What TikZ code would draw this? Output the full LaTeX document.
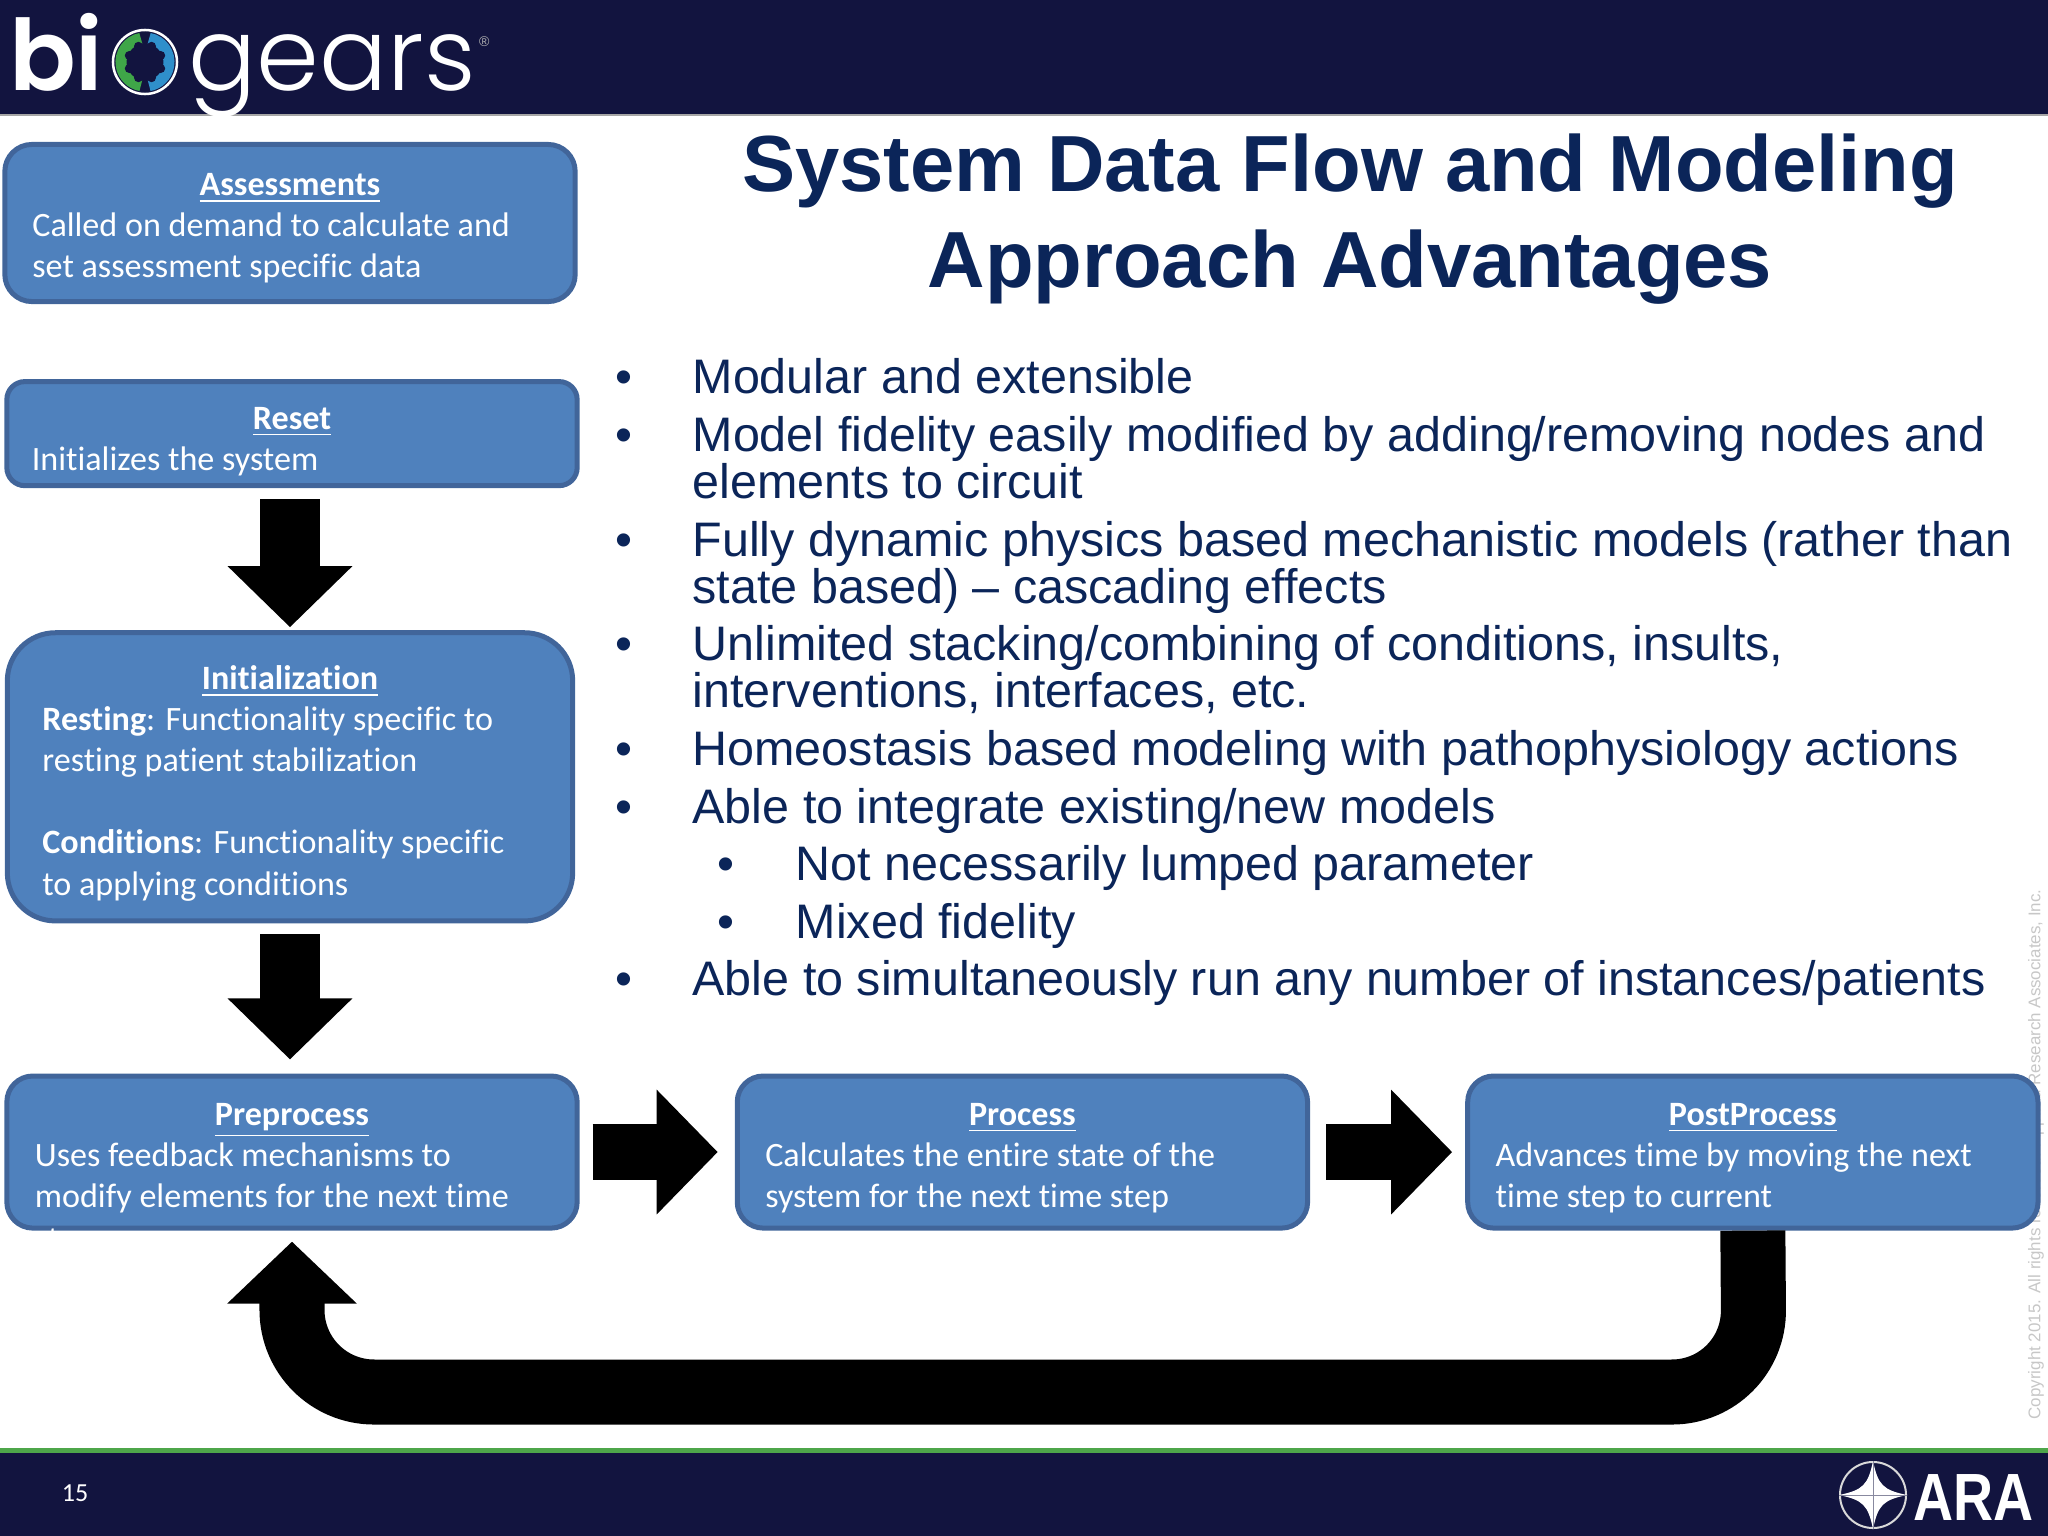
\documentclass[tikz,border=0pt]{standalone}
\usepackage{fontspec}
\setmainfont{Liberation Sans}
\newfontfamily\boxfont{Carlito}[Ligatures=NoCommon]
\newfontfamily\logofont{Poppins Light}
\usetikzlibrary{positioning, arrows.meta}

\definecolor{barnavy}{HTML}{12143F}
\definecolor{titlenavy}{HTML}{0B2559}
\definecolor{boxfill}{HTML}{4F81BD}
\definecolor{boxline}{HTML}{41659A}
\definecolor{bargreen}{HTML}{4EA64A}
\definecolor{gearblue}{HTML}{2F8FCB}
\definecolor{geargreen}{HTML}{3FA648}

\setlength{\lineskiplimit}{-10pt}
\setlength{\normallineskiplimit}{-10pt}
\newcommand{\boxhead}[2][0.33cm]{\makebox[\hsize]{\rule{0pt}{#1}\textbf{\underline{#2}}}}
\newcommand{\itembull}{\leavevmode\llap{\textbullet\hspace{0.6cm}}}
\newcommand{\subbull}{\leavevmode\hspace*{1.03cm}\llap{\textbullet\hspace{0.61cm}}}

\begin{document}
\begin{tikzpicture}[x=0.01cm, y=-0.01cm, node distance=0.07cm]
    % Define styles
    \tikzstyle{flowbox} = [draw=boxline, line width=0.05cm, fill=boxfill, rectangle, text=white, inner sep=0pt, align=flush left, font=\boxfont\fontsize{9.7}{11.67}\selectfont]
    \tikzstyle{rec_assess} = [flowbox, rounded corners=0.27cm, minimum width=5.7cm, minimum height=1.57cm, text width=5.15cm]
    \tikzstyle{rec_reset} = [flowbox, rounded corners=0.18cm, minimum width=5.7cm, minimum height=1.04cm, text width=5.2cm]
    \tikzstyle{rec_init} = [flowbox, rounded corners=0.48cm, minimum width=5.65cm, minimum height=2.88cm, text width=4.95cm]
    \tikzstyle{rec_flow} = [flowbox, rounded corners=0.26cm, minimum width=5.7cm, minimum height=1.52cm, text width=5.14cm]
    \tikzstyle{downarrow} = [-{Triangle[length=0.61cm, width=1.21cm]}, line width=0.6cm, black]
    \tikzstyle{rightarrow} = [-{Triangle[length=0.61cm, width=1.21cm]}, line width=0.56cm, black]
    \tikzstyle{feedback} = [-{Triangle[length=0.62cm, width=1.26cm]}, line width=0.65cm, black, rounded corners=0.82cm]
    \tikzstyle{bodyitem} = [text=titlenavy, inner sep=0pt, text width=13.4cm, align=flush left, font=\fontsize{13.78}{13.37}\selectfont]

    \useasboundingbox (0,0) rectangle (2048,1536);

    % BARS
    \fill[barnavy] (0,0) rectangle (2048,114);
    \fill[gray!70] (0,114) rectangle (2048,116);
    \fill[barnavy] (0,1452) rectangle (2048,1536);
    \fill[bargreen] (0,1448) rectangle (2048,1453);

    % LOGO
    \node (logo_bi) [anchor=base east, text=white, inner sep=0pt, font=\logofont\bfseries\fontsize{28}{28}\selectfont] at (104,90) {bi};
    \node (logo_ring) [circle, draw=white, line width=0.025cm, fill=barnavy, minimum size=0.64cm, inner sep=0pt] at (145,62) {};
    \draw[geargreen, line width=0.11cm] (145,62) ++(100:0.24cm) arc (100:260:0.24cm);
    \draw[gearblue, line width=0.11cm] (145,62) ++(80:0.24cm) arc (80:-80:0.24cm);
    \foreach \a in {22.5,67.5,...,337.5} {
        \fill[barnavy] (145,62) ++(\a:0.17cm) circle (0.045cm);
    }
    \node (logo_gears) [anchor=base west, text=white, inner sep=0pt, font=\logofont\fontsize{28.7}{29}\selectfont] at (188,90) {gears};
    \node (logo_reg) [anchor=base west, text=gray!60, inner sep=0pt, font=\fontsize{4}{4}\selectfont, right=0.02cm of logo_gears.north east, yshift=-0.08cm] {®};

    % TITLE
    \node (title) [text=titlenavy, align=flush center, inner sep=0pt, font=\bfseries\fontsize{22.63}{27.3}\selectfont] at (1350,219) {System Data Flow and Modeling\\Approach Advantages};

    % WATERMARK
    \node (copyright) [rotate=90, anchor=west, text=black!22, inner sep=0pt, font=\fontsize{4.82}{5}\selectfont] at (2036,1420) {Copyright 2015. All rights reserved. Applied Research Associates, Inc.};

    % BULLETS
    \node (item1) [bodyitem, anchor=north west] at (692,358) {\itembull\strut Modular and extensible\strut};
    \node (item2) [bodyitem, below=of item1] {\itembull\strut Model fidelity easily modified by adding/removing nodes and\\elements to circuit\strut};
    \node (item3) [bodyitem, below=of item2] {\itembull\strut Fully dynamic physics based mechanistic models (rather than\\state based) – cascading effects\strut};
    \node (item4) [bodyitem, below=of item3] {\itembull\strut Unlimited stacking/combining of conditions, insults,\\interventions, interfaces, etc.\strut};
    \node (item5) [bodyitem, below=of item4] {\itembull\strut Homeostasis based modeling with pathophysiology actions\strut};
    \node (item6) [bodyitem, below=of item5] {\itembull\strut Able to integrate existing/new models\strut};
    \node (item6a) [bodyitem, below=of item6] {\subbull\strut Not necessarily lumped parameter\strut};
    \node (item6b) [bodyitem, below=of item6a] {\subbull\strut Mixed fidelity\strut};
    \node (item7) [bodyitem, below=of item6b] {\itembull\strut Able to simultaneously run any number of instances/patients\strut};

    % FEEDBACK ARROW GOES UNDER THE BOXES
    \coordinate (back_low) at (1754,1392);

    % LEFT COLUMN
    \node (assess) [rec_assess] at (290,223) {\boxhead{Assessments}\\Called on demand to calculate and\\set assessment specific data};
    \node (reset) [rec_reset, below=0.75cm of assess, xshift=0.02cm] {\boxhead[0.38cm]{Reset}\\Initializes the system};
    \node (init) [rec_init, below=1.42cm of reset, xshift=-0.02cm] {\boxhead[0.37cm]{Initialization}\\\textbf{Resting}: Functionality specific to\\resting patient stabilization\\~\\\textbf{Conditions}: Functionality specific\\to applying conditions};

    % BOTTOM ROW
    \node (preprocess) [rec_flow, below=1.5cm of init, xshift=0.02cm] {\boxhead[0.34cm]{Preprocess}\\Uses feedback mechanisms to\\\leavevmode\rlap{\raisebox{-0.43cm}[0pt][0pt]{step}}modify elements for the next time};
    \node (process) [rec_flow, right=1.55cm of preprocess] {\boxhead[0.34cm]{Process}\\Calculates the entire state of the\\system for the next time step};
    \node (postprocess) [rec_flow, right=1.55cm of process] {\boxhead[0.34cm]{PostProcess}\\Advances time by moving the next\\time step to current};

    % CONNECTIONS
    \draw[downarrow, shorten <=0.11cm, shorten >=0.03cm] (init |- reset.south) -- (init.north);
    \draw[downarrow, shorten <=0.11cm, shorten >=0.14cm] (init.south) -- (init |- preprocess.north);
    \draw[rightarrow, shorten <=0.13cm, shorten >=0.17cm] (preprocess) -- (process);
    \draw[rightarrow, shorten <=0.16cm, shorten >=0.13cm] (process) -- (postprocess);
    \draw[feedback, shorten >=0.11cm] (postprocess.south) -- (back_low) -| (preprocess.south);

    % FOOTER
    \node (pagenum) [text=white, inner sep=0pt, font=\boxfont\fontsize{7.4}{9}\selectfont] at (75,1493) {15};
    \node (ara_ring) [circle, draw=white!85!black, line width=0.02cm, minimum size=0.66cm, inner sep=0pt] at (1873,1495) {};
    \fill[white] (1873,1461) .. controls (1878,1485) and (1883,1490) .. (1907,1495) .. controls (1883,1500) and (1878,1505) .. (1873,1529) .. controls (1868,1505) and (1863,1500) .. (1839,1495) .. controls (1863,1490) and (1868,1485) .. (1873,1461) -- cycle;
    \draw[barnavy!50, line width=0.01cm] (ara_ring.north) -- (ara_ring.south) (ara_ring.west) -- (ara_ring.east);
    \node (ara_text) [anchor=base west, text=white, inner sep=0pt, xscale=0.83, transform shape, font=\bfseries\fontsize{19}{19}\selectfont] at (1913,1520) {ARA};
\end{tikzpicture}
\end{document}
